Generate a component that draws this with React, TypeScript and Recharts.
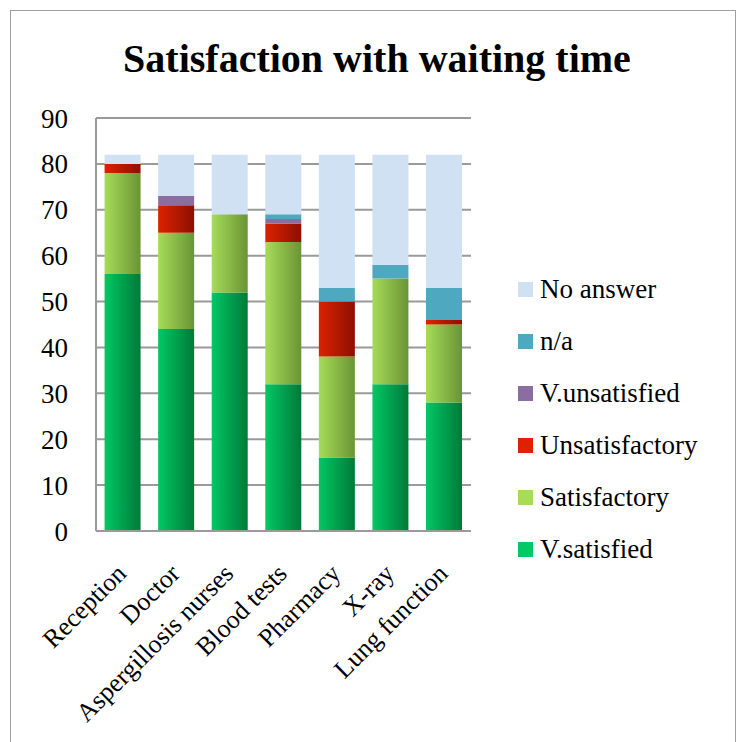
import React from "react";
import { BarChart, Bar, XAxis, YAxis, CartesianGrid } from "recharts";

const categories = [
  "Reception",
  "Doctor",
  "Aspergillosis nurses",
  "Blood tests",
  "Pharmacy",
  "X-ray",
  "Lung function",
];

const vSatisfied = [56, 44, 52, 32, 16, 32, 28];
const satisfactory = [22, 21, 17, 31, 22, 23, 17];
const unsatisfactory = [2, 6, 0, 4, 12, 0, 1];
const vUnsatisfied = [0, 2, 0, 1, 0, 0, 0];
const notApplicable = [0, 0, 0, 1, 3, 3, 7];
const noAnswer = [2, 9, 13, 13, 29, 24, 29];

const yTicks = [0, 10, 20, 30, 40, 50, 60, 70, 80, 90];

const series = [
  { key: "vsat", name: "V.satisfied", values: vSatisfied, from: "#00c864", to: "#007a38" },
  { key: "sat", name: "Satisfactory", values: satisfactory, from: "#a6dc58", to: "#6a9436" },
  { key: "unsat", name: "Unsatisfactory", values: unsatisfactory, from: "#dc2200", to: "#8c1000" },
  { key: "vunsat", name: "V.unsatisfied", values: vUnsatisfied, from: "#8a6ea2", to: "#8a6ea2" },
  { key: "na", name: "n/a", values: notApplicable, from: "#4ea8c0", to: "#4ea8c0" },
  { key: "noans", name: "No answer", values: noAnswer, from: "#d0e1f3", to: "#d0e1f3" },
];

const data = categories.map((c, i) => {
  const row: Record<string, string | number> = { name: c };
  series.forEach((s) => {
    row[s.key] = s.values[i];
  });
  return row;
});

const font = "'Liberation Serif', 'DejaVu Serif', serif";

const XTick = (props: any) => {
  const { x, y, payload } = props;
  return (
    <g transform={`translate(${x + 5},${y + 36})`}>
      <text
        transform="rotate(-45)"
        textAnchor="end"
        fontSize={26}
        fontFamily={font}
        fill="#000"
      >
        {payload.value}
      </text>
    </g>
  );
};

const App = () => {
  return (
    <div
      style={{
        position: "relative",
        width: 724,
        height: 740,
        marginLeft: 2,
        marginTop: 2,
        border: "1.5px solid #a0a0a0",
        fontFamily: font,
        background: "#fff",
      }}
    >
      <div
        style={{
          position: "absolute",
          left: 0,
          width: 732,
          top: 24,
          textAlign: "center",
          fontSize: 40,
          fontWeight: "bold",
        }}
      >
        Satisfaction with waiting time
      </div>
      <div style={{ position: "absolute", left: 0, top: 0 }}>
        <BarChart
          width={724}
          height={735}
          data={data}
          margin={{ top: 107, right: 264, left: 0, bottom: 65 }}
          barCategoryGap="16%"
        >
          <defs>
            {series.map((s) => (
              <linearGradient key={s.key} id={`g-${s.key}`} x1="0" y1="0" x2="1" y2="0">
                <stop offset="0%" stopColor={s.from} />
                <stop offset="100%" stopColor={s.to} />
              </linearGradient>
            ))}
          </defs>
          <CartesianGrid vertical={false} stroke="#9a9a9a" strokeWidth={2} />
          <XAxis
            dataKey="name"
            interval={0}
            height={150}
            tick={<XTick />}
            tickLine={false}
            axisLine={{ stroke: "#9a9a9a", strokeWidth: 2 }}
          />
          <YAxis
            domain={[0, 90]}
            ticks={yTicks}
            width={85}
            tickLine={false}
            axisLine={{ stroke: "#9a9a9a", strokeWidth: 2 }}
            tick={{ fontSize: 27, fontFamily: font, fill: "#000" }}
            tickMargin={22}
          />
          {series.map((s) => (
            <Bar
              key={s.key}
              dataKey={s.key}
              name={s.name}
              stackId="a"
              fill={`url(#g-${s.key})`}
              isAnimationActive={false}
            />
          ))}
        </BarChart>
      </div>
      <div style={{ position: "absolute", left: 507, top: 252 }}>
        {[...series].reverse().map((s) => (
          <div
            key={s.key}
            style={{ display: "flex", alignItems: "center", height: 52, fontSize: 27 }}
          >
            <span
              style={{
                display: "inline-block",
                width: 15,
                height: 15,
                background: s.from,
                marginRight: 7,
              }}
            />
            {s.name}
          </div>
        ))}
      </div>
    </div>
  );
};

export default App;
